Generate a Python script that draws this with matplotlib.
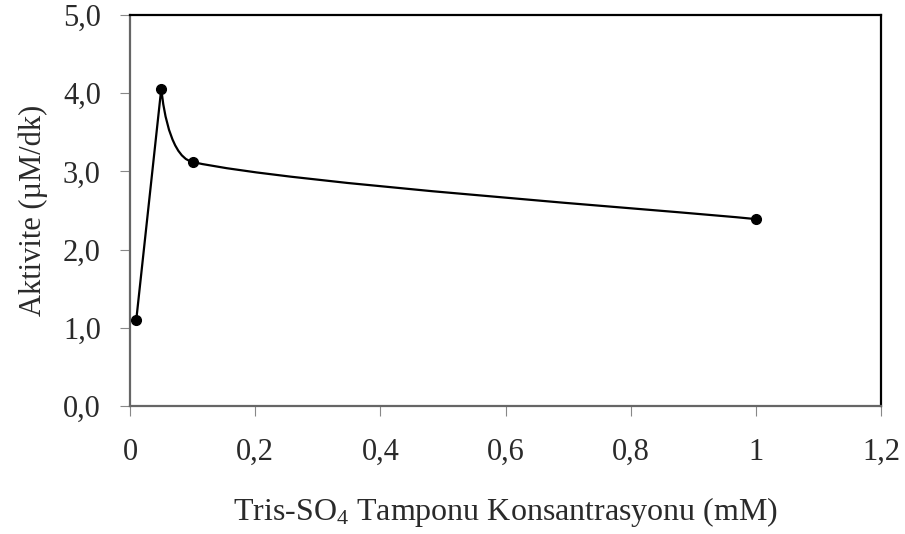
import matplotlib.pyplot as plt
from matplotlib.path import Path
from matplotlib.patches import PathPatch
import numpy as np

# Tris-SO4 buffer concentration (mM) vs. enzyme activity (uM/dk)
conc = [0.01, 0.05, 0.1, 1.0]
activity = [1.1, 4.06, 3.12, 2.39]

x_ticks = [0, 0.2, 0.4, 0.6, 0.8, 1.0, 1.2]
x_labels = ['0', '0,2', '0,4', '0,6', '0,8', '1', '1,2']
y_ticks = [0, 1, 2, 3, 4, 5]
y_labels = ['0,0', '1,0', '2,0', '3,0', '4,0', '5,0']

plt.rcParams.update({'font.family': 'Liberation Serif',
                     'mathtext.fontset': 'custom',
                     'mathtext.rm': 'Liberation Serif',
                     'mathtext.it': 'Liberation Serif:italic'})

W, H = 905, 534
fig = plt.figure(figsize=(W / 100, H / 100), dpi=100)
ax_box = [130 / W, 128 / H, 751 / W, 391 / H]
ax = fig.add_axes(ax_box)
ax.set_xlim(0, 1.2)
ax.set_ylim(0, 5)


def clamp(v, limit):
    n = np.hypot(*v)
    return v if n <= limit or n == 0 else v * limit / n


def smooth_path(xs, ys, sx, sy):
    """ spreadsheet style smoothed line: cubic bezier through every point """
    p = np.column_stack([np.array(xs) * sx, np.array(ys) * sy])
    n = len(p)
    tang = []
    for i in range(n):
        if i == 0:
            t = (p[1] - p[0]) / 6
        elif i == n - 1:
            t = (p[-1] - p[-2]) / 6
        elif (p[i, 1] - p[i - 1, 1]) * (p[i + 1, 1] - p[i, 1]) < 0:
            t = np.zeros(2)  # sharp turn at a peak
        else:
            t = (p[i + 1] - p[i - 1]) / 6
        tang.append(t)
    verts = [p[0]]
    codes = [Path.MOVETO]
    for i in range(n - 1):
        seg = np.hypot(*(p[i + 1] - p[i])) / 3
        verts += [p[i] + clamp(tang[i], seg), p[i + 1] - clamp(tang[i + 1], seg), p[i + 1]]
        codes += [Path.CURVE4] * 3
    verts = np.array(verts) / [sx, sy]
    return Path(verts, codes)


# scale factors so the curve is shaped in pixel space
sx = 751 / 1.2
sy = 391 / 5.0
ax.add_patch(PathPatch(smooth_path(conc, activity, sx, sy), fill=False,
                       edgecolor='black', lw=1.6, zorder=2))
ax.plot(conc, activity, 'o', color='black', markersize=7, zorder=3)

txt = '#2a2a2a'
ax.set_xticks(x_ticks)
ax.set_xticklabels(x_labels)
ax.set_yticks(y_ticks)
ax.set_yticklabels(y_labels)
ax.tick_params(direction='out', length=7, width=0.8, color='#888888',
               labelsize=22, labelcolor=txt)
ax.tick_params(axis='x', pad=16)
ax.tick_params(axis='y', pad=14)

for side in ['top', 'right']:
    ax.spines[side].set_color('black')
    ax.spines[side].set_linewidth(1.6)
for side in ['left', 'bottom']:
    ax.spines[side].set_color('#666666')
    ax.spines[side].set_linewidth(1.6)

ax.set_xlabel(r'Tris-SO$_4$ Tamponu Konsantrasyonu (mM)', fontsize=23,
              color=txt, labelpad=20)
ax.set_ylabel('Aktivite (µM/dk)', fontsize=22, color=txt, labelpad=11)

fig.savefig('out.png', dpi=100)
